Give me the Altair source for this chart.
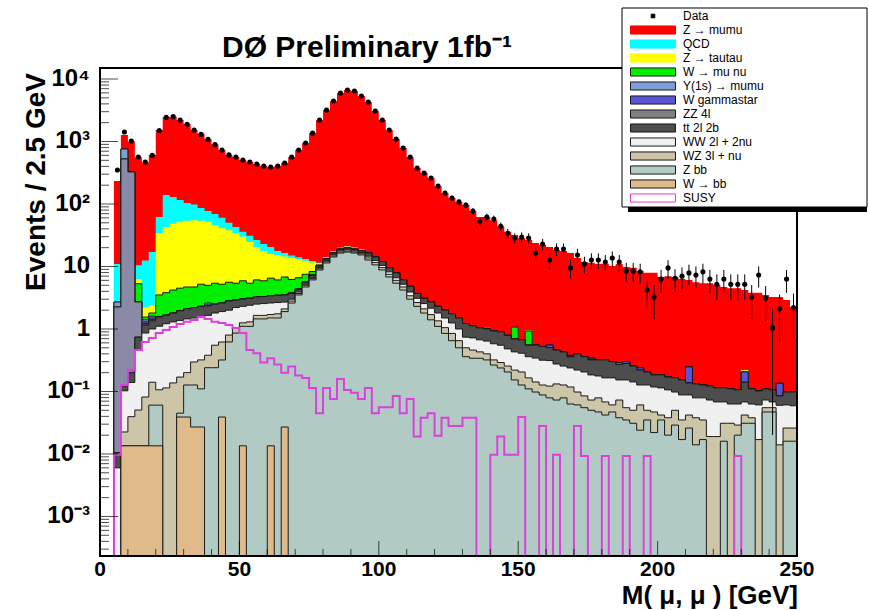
import numpy as np
import pandas as pd
import altair as alt

# Dimuon invariant mass: 100 bins of 2.5 GeV between 0 and 250 GeV
N_BINS = 100
BIN_WIDTH = 2.5
edges = [BIN_WIDTH * i for i in range(N_BINS + 1)]
centers = [BIN_WIDTH * (i + 0.5) for i in range(N_BINS)]

# observed events per bin (None = no entry)
data_counts = [
    None, None, 350, 1420, 1018, 565, 470, 600, 1500, 2450,
    2500, 2200, 1880, 1530, 1300, 1080, 890, 730, 610, 565,
    505, 470, 437, 406, 391, 406, 453, 565, 731, 946,
    1368, 2208, 3192, 4446, 5970, 6668, 6427, 5346, 4285, 3076,
    2208, 1528, 1096, 787, 565, 377, 313, 261, 194, 150,
    125, 108, 96, 77, 53, 62, 57.6, 44, 34, 28.6,
    29.7, 28.6, 16.4, 22.9, 12.7, 19, 19, 9.5, 15.3, 11,
    12.7, 12.7, 11.8, 13.7, 11.8, 8.5, 8.5, 8.2, 4.2, 3.25,
    6.3, 9.5, 6.5, 7.0, 7.9, 7.3, 8.2, 6.3, 5.2, 6.3,
    5.2, 5.2, 5.2, 3.25, 7.3, 3.1, 1.04, 2.1, 6.3, 2.2,
]

# expected events per bin, one list per process
zmumu = [
    0, 0, 222, 511, 670, 550, 452, 591, 1466, 2327,
    2371, 2092, 1796, 1430, 1244, 1023, 831, 671, 558, 522,
    470, 439, 410, 383, 370, 388, 437, 550, 717, 933,
    1356, 2196, 3178, 4429, 5950, 6647, 6407, 5327, 4268, 3062,
    2196, 1518, 1088, 781, 560, 373, 310, 258, 192, 148,
    123, 106.5, 94.8, 75.9, 61, 61, 54.1, 43.1, 35.2, 30.9,
    27.9, 25.6, 23.3, 21.5, 20.0, 17.9, 17.3, 16.0, 13.3, 11.4,
    11.1, 10.7, 10.7, 9.9, 10.7, 9.5, 9.25, 8.26, 7.7, 7.72,
    6.62, 6.83, 6.64, 6.15, 5.85, 5.47, 5.27, 5.27, 4.99, 4.59,
    4.39, 4.39, 3.98, 3.69, 3.70, 3.39, 3.14, 3.12, 2.80, 2.15,
]
qcd = [
    0, 0, 8.3, 0, 0, 4.2, 10.3, 14.6, 28, 96,
    81, 64, 50, 43, 32, 25, 23, 19, 12, 9,
    6, 6.3, 6, 5.3, 4.7, 2.6, 1.9, 1.3, 1.0, 0.8,
    0.6, 0.2, 0.1, 0.1, 0.1, 0.1, 0.1, 0.1, 0, 0,
    0, 0, 0, 0, 0, 0, 0, 0, 0, 0,
    0, 0, 0, 0, 0, 0.05, 0, 0, 0, 0,
] + [0] * 40
ztautau = [
    0, 0, 0, 0, 0, 1.0, 0.65, 0.6, 30.5, 39.2,
    44, 47.5, 49.3, 50.3, 48.8, 47, 40.6, 35.8, 32.4, 28.6,
    24.1, 19.3, 14.4, 11.8, 9.3, 9.0, 7.7, 7.5, 6.4, 4.9,
    3.3, 0.7, 0.6, 0.7, 0.8, 0.9, 0.9, 0.6, 0.3, 0,
] + [0] * 20 + [
    0, 0.02, 0, 0.01, 0, 0, 0, 0, 0, 0,
    0, 0, 0, 0, 0, 0, 0, 0, 0, 0,
    0, 0, 0, 0, 0, 0, 0, 0.004, 0, 0,
    0, 0, 0.015, 0, 0, 0, 0, 0, 0, 0,
]
wmunu = [
    0, 0, 0, 0, 0, 2.6, 0.15, 0.2, 1.95, 2.15,
    2.4, 2.55, 2.6, 2.5, 2.9, 2.4, 2.9, 2.6, 2.8, 2.5,
    2.9, 2.3, 2.85, 2.6, 3.1, 2.65, 3.3, 2.45, 2.25, 1.85,
    1.0, 0.3, 0.2, 0.2, 0.2, 0.2, 0.2, 0.2, 0, 0,
    0, 0, 0, 0, 0, 0, 0, 0, 0, 0,
    0, 0, 0, 0, 0, 0, 0, 0, 0, 0.38,
    0, 0.38, 0, 0, 0, 0, 0, 0, 0, 0,
] + [0] * 30
ups1s = [
    0, 0, 0.45, 234, 5, 0, 0.1, 0.1, 0, 0,
    0, 0, 0, 0, 0, 0.2, 0, 0, 0, 0,
] + [0] * 80
wgamma = [0, 0, 0, 0, 0, 0, 0.1, 0.1, 0, 0] + [0] * 50 + [
    0, 0, 0, 0, 0.05, 0, 0, 0.02, 0, 0,
    0.02, 0, 0, 0, 0.02, 0.02, 0, 0.02, 0, 0,
    0, 0, 0, 0, 0.11, 0, 0, 0, 0, 0,
    0, 0, 0.065, 0, 0, 0, 0, 0.05, 0, 0,
]
lowmass = [0, 0, 2.24, 525, 325, 1.96, 0, 0, 0, 0] + [0] * 90
zz = [
    0, 0, 0, 0, 0.02, 0, 0.05, 0.05, 0, 0,
    0, 0, 0, 0, 0, 0.05, 0, 0, 0, 0,
    0, 0, 0, 0, 0, 0, 0, 0.05, 0.05, 0.05,
    0.1, 0.1, 0.1, 0.1, 0.1, 0.1, 0.1, 0.1, 0.1, 0,
] + [0] * 60
ttbar = [
    0, 0, 0.0045, 0.02, 0.06, 0.28, 0.29, 0.35, 0.45, 0.45,
    0.5, 0.58, 0.65, 0.7, 0.75, 0.7, 0.7, 0.7, 0.8, 0.7,
    0.7, 0.7, 0.75, 0.75, 0.8, 0.8, 0.8, 0.7, 0.4, 0.4,
    0.5, 0.6, 0.7, 0.9, 1.0, 1.1, 1.0, 1.0, 1.8, 1.7,
    1.6, 1.3, 1.3, 0.9, 0.9, 0.6, 0.55, 0.55, 0.5, 0.5,
    0.5, 0.5, 0.48, 0.4, 0.37, 0.36, 0.35, 0.35, 0.31, 0.26,
    0.26, 0.19, 0.21, 0.21, 0.19, 0.185, 0.175, 0.12, 0.18, 0.155,
    0.136, 0.143, 0.155, 0.135, 0.117, 0.127, 0.113, 0.093, 0.078, 0.066,
    0.07, 0.064, 0.067, 0.065, 0.049, 0.053, 0.048, 0.049, 0.046, 0.046,
    0.047, 0.043, 0.072, 0.047, 0.041, 0.037, 0.038, 0.025, 0.037, 0.039,
]
ww = [
    0, 0, 0.006, 0.08, 0.1, 0.41, 0.78, 0.86, 1.0, 1.1,
    1.16, 1.2, 1.25, 1.2, 1.23, 1.27, 1.25, 1.28, 1.2, 1.16,
    1.05, 1.1, 0.85, 0.9, 0.9, 0.9, 0.6, 0.2, 0.2, 0.2,
    0.3, 0.4, 0.5, 0.6, 0.7, 0.8, 0.7, 0.7, 0.9, 0.9,
    0.8, 0.7, 0.6, 0.5, 0.5, 0.45, 0.45, 0.45, 0.45, 0.45,
    0.4, 0.35, 0.24, 0.26, 0.24, 0.24, 0.26, 0.26, 0.225, 0.21,
    0.205, 0.195, 0.2, 0.19, 0.19, 0.143, 0.128, 0.12, 0.122, 0.12,
    0.111, 0.098, 0.097, 0.104, 0.08, 0.098, 0.092, 0.066, 0.077, 0.071,
    0.072, 0.068, 0.048, 0.053, 0.046, 0.041, 0.044, 0.054, 0.049, 0.037,
    0.032, 0.034, 0.026, 0.025, 0.044, 0.018, 0.013, 0.046, 0.035, 0.033,
]
wz = [
    0, 0, 0, 0.009, 0.026, 0.037, 0.068, 0.08, 0.046, 0.114,
    0.137, 0.125, 0.073, 0.17, 0.21, 0.14, 0.31, 0.3, 0.18, 0.18,
    0.15, 0.2, 0.2, 0.2, 0.2, 0.25, 0.2, 0.2, 0.2, 0.3,
    0.3, 0.4, 0.5, 0.6, 0.7, 0.7, 0.7, 0.7, 1.0, 1.0,
    0.8, 0.7, 0.6, 0.5, 0.4, 0.35, 0.3, 0.3, 0.25, 0.2,
    0.2, 0.15, 0.14, 0.12, 0.09, 0.08, 0.055, 0.052, 0.05, 0.067,
    0.078, 0.055, 0.044, 0.039, 0.043, 0.059, 0.048, 0.055, 0.037, 0.03,
    0.023, 0.032, 0.026, 0.014, 0.035, 0.02, 0.019, 0.037, 0.015, 0.025,
    0.007, 0.018, 0.021, 0.018, 0.016, 0.024, 0.018, 0.019, 0.019, 0.015,
    0.031, 0.009, 0.011, 0.007, 0.017, 0.008, 0.008, 0.014, 0.01, 0.01,
]
zbb = [
    0, 0, 0, 0, 0, 0, 0, 0.047, 0.047, 0,
    0, 0.006, 0.088, 0.1, 0.083, 0.24, 0.24, 0.28, 0.62, 0.86,
    1.09, 1.1, 1.45, 1.45, 1.49, 1.5, 1.87, 2.6, 3.5, 4.7,
    6.1, 8.8, 11.4, 14.2, 16.4, 17.0, 16.4, 15.3, 12.7, 10.6,
    8.8, 6.8, 5.4, 4.2, 3.0, 2.3, 1.8, 1.4, 1.1, 0.85,
    0.65, 0.5, 0.36, 0.34, 0.34, 0.32, 0.265, 0.238, 0.205, 0.153,
    0.127, 0.11, 0.098, 0.088, 0.079, 0.073, 0.079, 0.063, 0.061, 0.055,
    0.05, 0.047, 0.042, 0.047, 0.038, 0.035, 0.031, 0.024, 0.035, 0.022,
    0.035, 0.02, 0.029, 0.017, 0.026, 0.014, 0.017, 0, 0, 0.016,
    0, 0.02, 0.031, 0.031, 0, 0.047, 0.047, 0, 0.016, 0.016,
]
wbb = [
    0, 0, 0, 0.0135, 0.0135, 0.0135, 0.0135, 0.0135, 0.0135, 0,
    0, 0.039, 0.039, 0.027, 0.027, 0, 0, 0.039, 0, 0,
    0.0135, 0, 0, 0, 0.0135, 0, 0.027, 0, 0, 0,
] + [0] * 70

# signal expectation, drawn as an unstacked outline
susy = [
    0, 0, 0.0097, 0.127, 0.22, 0.46, 0.62, 0.72, 0.86, 0.96,
    1.08, 1.2, 1.3, 1.39, 1.55, 1.45, 1.3, 1.25, 1.16, 1.04,
    0.86, 0.46, 0.41, 0.29, 0.34, 0.27, 0.2, 0.25, 0.18, 0.165,
    0.114, 0.045, 0.114, 0.076, 0.158, 0.106, 0.095, 0.076, 0.114, 0.045,
    0.056, 0.056, 0.085, 0.045, 0.076, 0.019, 0.038, 0.045, 0.0195, 0.038,
    0.028, 0.028, 0.038, 0.038, 0, 0, 0.0097, 0.019, 0.0097, 0.0097,
    0.039, 0, 0, 0.028, 0, 0.0097, 0, 0, 0.028, 0.0093,
    0, 0, 0.0093, 0, 0, 0.0093, 0, 0, 0.0093, 0,
    0, 0, 0, 0, 0, 0, 0, 0, 0, 0,
    0, 0.0093, 0, 0, 0, 0, 0, 0, 0, 0,
]

# axis ticks and their labels
xtick_vals = [0, 50, 100, 150, 200, 250]
xtick_text = ["0", "50", "100", "150", "200", "250"]
ytick_vals = [1e-3, 1e-2, 1e-1, 1, 10, 100, 1e3, 1e4]
ytick_text = ["10⁻³", "10⁻²", "10⁻¹", "1", "10", "10²", "10³", "10⁴"]

FONT = "Liberation Sans"
FLOOR = 1e-7
Y_MIN, Y_MAX = 2.33e-4, 1.5e4
W, H = 697, 488
SUSY_COLOR = "#dd3fdd"
EDGE = "#1a1a1a"

# stack, bottom to top: (name, counts, fill, outline)
stack = [
    ("W → bb", wbb, "#dfba8a", EDGE),
    ("Z bb", zbb, "#b1cbc4", EDGE),
    ("WZ 3l + nu", wz, "#ccc5a8", EDGE),
    ("WW 2l + 2nu", ww, "#f0f0f0", EDGE),
    ("tt 2l 2b", ttbar, "#4d4d4d", EDGE),
    ("ZZ 4l", zz, "#7f7f7f", EDGE),
    ("low-mass dimuons", lowmass, "#8a8aa8", EDGE),
    ("W gammastar", wgamma, "#5954d8", EDGE),
    ("Y(1s) → mumu", ups1s, "#7e9ed8", EDGE),
    ("W → mu nu", wmunu, "#00ee00", EDGE),
    ("Z → tautau", ztautau, "#ffff00", None),
    ("QCD", qcd, "#00ffff", None),
    ("Z → mumu", zmumu, "#ff0000", None),
]
cum = np.cumsum(np.array([s[1] for s in stack], dtype=float), axis=0)

xscale = alt.Scale(domain=[0, 250], nice=False, zero=False)
yscale = alt.Scale(type="log", domain=[Y_MIN, Y_MAX], nice=False, clamp=True)
X = dict(field="m", type="quantitative", scale=xscale, axis=None)
Y = dict(type="quantitative", scale=yscale, axis=None)


def step_frame(values):
    vals = list(np.maximum(np.asarray(values, dtype=float), FLOOR))
    return pd.DataFrame({"m": edges, "top": vals + [vals[-1]], "floor": FLOOR})


layers = []

# filled stack: total first, then each lower cumulative sum over it
for k in reversed(range(len(stack))):
    name, _, fill, outline = stack[k]
    mark_kw = dict(interpolate="step-after", fill=fill, opacity=1, clip=True)
    if outline:
        mark_kw.update(stroke=outline, strokeWidth=1)
    else:
        mark_kw.update(strokeWidth=0)
    layers.append(
        alt.Chart(step_frame(cum[k])).mark_area(**mark_kw).encode(
            x=alt.X(**X), y=alt.Y("top", **Y), y2="floor:Q",
        )
    )

# signal outline
layers.append(
    alt.Chart(step_frame(susy)).mark_line(
        interpolate="step-after", color=SUSY_COLOR, strokeWidth=2, clip=True
    ).encode(x=alt.X(**X), y=alt.Y("top", **Y))
)

# data points with Poisson error bars
pts = pd.DataFrame({"m": centers, "n": data_counts}).dropna()
pts["n"] = pts["n"].astype(float)
pts["lo"] = np.maximum(pts["n"] - np.sqrt(pts["n"]), FLOOR)
pts["hi"] = pts["n"] + np.sqrt(pts["n"])
layers.append(
    alt.Chart(pts).mark_rule(color="black", strokeWidth=1, clip=True).encode(
        x=alt.X(**X), y=alt.Y("lo", **Y), y2="hi:Q",
    )
)
layers.append(
    alt.Chart(pts).mark_point(
        filled=True, shape="circle", size=26, color="black", opacity=1, clip=True
    ).encode(x=alt.X(**X), y=alt.Y("n", **Y))
)

# inward ticks on the left and bottom edges
ymajor = pd.DataFrame({"m": 0.0, "v": ytick_vals})
yminor = pd.DataFrame({"m": 0.0, "v": [k * 10.0 ** e for e in range(-4, 4) for k in range(2, 10)
                                       if Y_MIN < k * 10.0 ** e < Y_MAX]})
xmajor = pd.DataFrame({"m": [float(v) for v in xtick_vals], "v": Y_MIN})
xminor = pd.DataFrame({"m": [float(v) for v in range(10, 250, 10) if v % 50], "v": Y_MIN})
for df, size, horizontal in [(ymajor, 18, True), (yminor, 9, True), (xmajor, 15, False), (xminor, 7, False)]:
    kw = dict(orient="horizontal", xOffset=size / 2) if horizontal else dict(orient="vertical", yOffset=-size / 2)
    layers.append(
        alt.Chart(df).mark_tick(color="black", thickness=1, size=size, **kw).encode(
            x=alt.X(**X), y=alt.Y("v", **Y),
        )
    )

# frame lines drawn above the fills
layers.append(
    alt.Chart(pd.DataFrame({"m": [0.0, 250.0]})).mark_rule(color="black", strokeWidth=2).encode(x=alt.X(**X))
)
layers.append(
    alt.Chart(pd.DataFrame({"v": [Y_MIN, Y_MAX]})).mark_rule(color="black", strokeWidth=2).encode(
        y=alt.Y("v", **Y)
    )
)

# tick labels, placed through the same scales as the marks
label_style = dict(font=FONT, fontWeight="bold", color="black")
layers.append(
    alt.Chart(pd.DataFrame({"v": ytick_vals, "t": ytick_text})).mark_text(
        align="right", baseline="middle", dx=-10, fontSize=24, **label_style
    ).encode(x=alt.value(0), y=alt.Y("v", **Y), text="t:N")
)
layers.append(
    alt.Chart(pd.DataFrame({"m": [float(v) for v in xtick_vals], "t": xtick_text})).mark_text(
        align="center", baseline="top", fontSize=21, **label_style
    ).encode(x=alt.X(**X), y=alt.value(H + 3), text="t:N")
)

# axis titles and heading
title_style = dict(font=FONT, fontWeight="bold", color="black", baseline="alphabetic")
layers.append(
    alt.Chart(pd.DataFrame({"t": ["M( μ, μ ) [GeV]"]})).mark_text(
        align="right", fontSize=26, **title_style
    ).encode(x=alt.value(W + 1), y=alt.value(H + 48), text="t:N")
)
layers.append(
    alt.Chart(pd.DataFrame({"t": ["Events / 2.5 GeV"]})).mark_text(
        align="right", angle=270, fontSize=28, **title_style
    ).encode(x=alt.value(-55), y=alt.value(5), text="t:N")
)
layers.append(
    alt.Chart(pd.DataFrame({"t": ["DØ Preliminary 1fb⁻¹"]})).mark_text(
        align="left", fontSize=30, **title_style
    ).encode(x=alt.value(122), y=alt.value(-11), text="t:N")
)

# legend panel with its drop shadow
one = pd.DataFrame({"k": [0]})
layers.append(
    alt.Chart(one).mark_rect(fill="black").encode(
        x=alt.value(528), x2=alt.value(767), y=alt.value(139), y2=alt.value(144)
    )
)
layers.append(
    alt.Chart(one).mark_rect(fill="white", stroke="black", strokeWidth=1).encode(
        x=alt.value(522), x2=alt.value(767), y=alt.value(-60), y2=alt.value(139)
    )
)

BAR = "M-1,-0.18H1V0.18H-1Z"
DOT = "M-0.08,-0.08H0.08V0.08H-0.08Z"
shown = [s for s in reversed(stack) if s[0] != "low-mass dimuons"]
legend_labels = ["Data"] + [s[0] for s in shown] + ["SUSY"]
legend_fill = ["black"] + [s[2] for s in shown] + ["white"]
legend_stroke = ["black"] + [s[2] if s[3] is None else s[3] for s in shown] + [SUSY_COLOR]
legend_shape = [DOT] + [BAR] * (len(legend_labels) - 1)

leg = alt.Legend(
    orient="none", legendX=522, legendY=-59, title=None, padding=0, rowPadding=0,
    clipHeight=14, symbolSize=2025, symbolStrokeWidth=1, symbolOffset=8,
    labelOffset=7, labelFont=FONT, labelFontSize=12, labelColor="black", labelLimit=300,
)
key = pd.DataFrame({"label": legend_labels, "m": -50.0, "v": 1.0})
layers.append(
    alt.Chart(key).mark_point(filled=True, opacity=1, clip=True).encode(
        x=alt.X(**X),
        y=alt.Y("v", **Y),
        fill=alt.Fill("label:N", scale=alt.Scale(domain=legend_labels, range=legend_fill), legend=leg),
        stroke=alt.Stroke("label:N", scale=alt.Scale(domain=legend_labels, range=legend_stroke), legend=leg),
        shape=alt.Shape("label:N", scale=alt.Scale(domain=legend_labels, range=legend_shape), legend=leg),
    )
)

chart = alt.layer(*layers).properties(
    width=W,
    height=H,
    padding={"left": 100, "top": 68, "right": 72, "bottom": 54},
    autosize=alt.AutoSizeParams(type="none"),
    background="white",
).configure_view(stroke="black", strokeWidth=2)

chart.save("out.html", embed_options={"renderer": "svg", "actions": False})
